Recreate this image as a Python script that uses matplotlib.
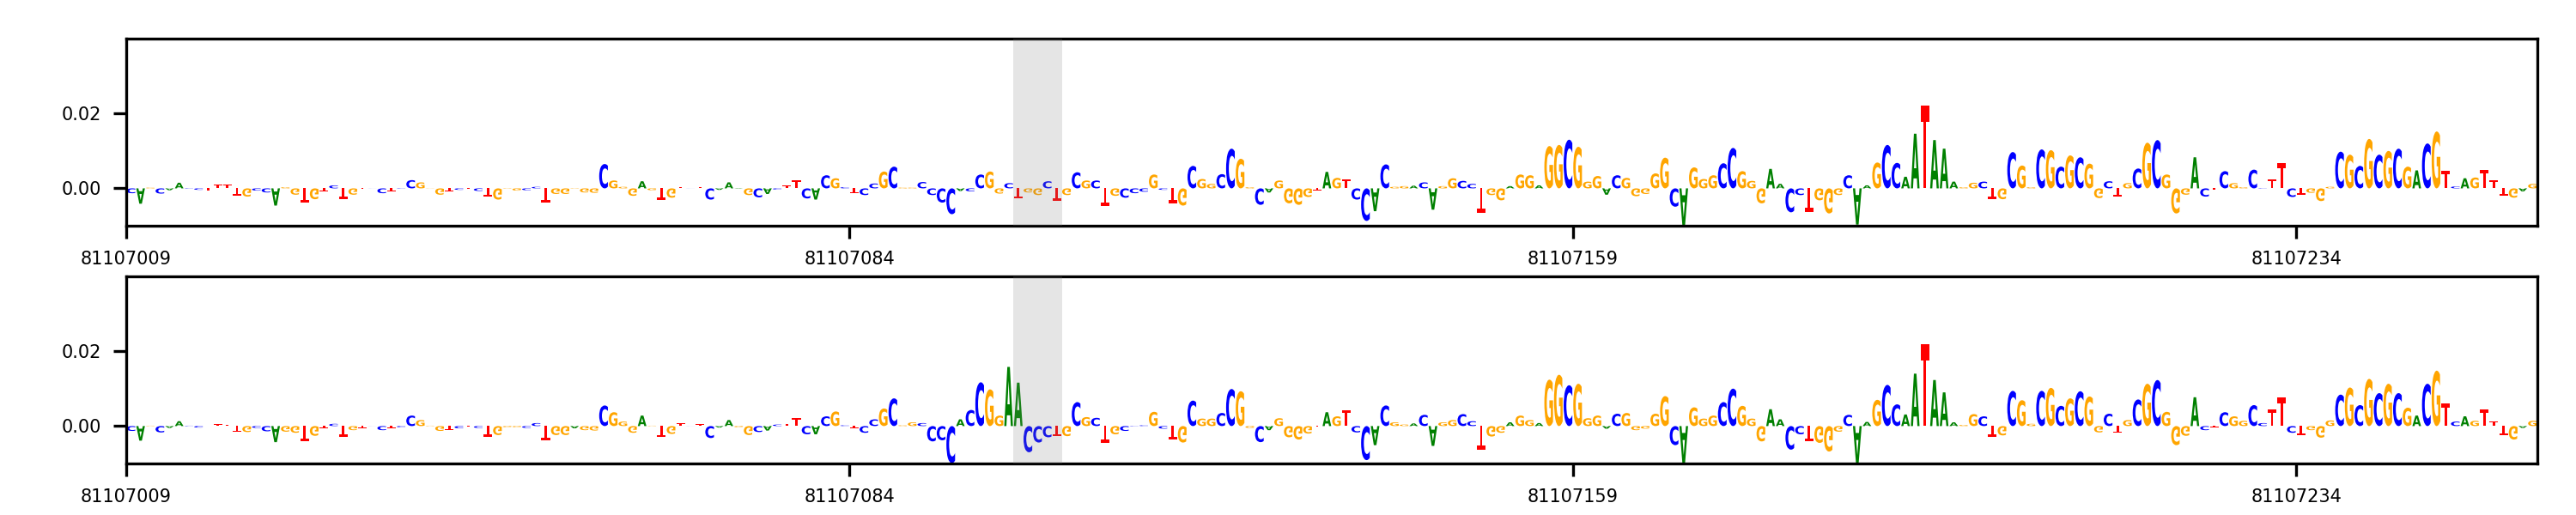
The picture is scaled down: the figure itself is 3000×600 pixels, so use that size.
import matplotlib
matplotlib.use('Agg')
import matplotlib.pyplot as plt
from matplotlib.font_manager import FontProperties
from matplotlib.patches import PathPatch
from matplotlib.textpath import TextPath
from matplotlib.transforms import Affine2D

# Bases per position, one row of ten per line
top_letters = ("CAGCAACCTT" "TTGCCAGGTG" "TCTGTCCTCC" "GGGTCTCTGG" "GCCTGGGGGC"
               "GGGAGTGTCT" "CAAAGCACTT" "CACGCTCCGC" "GGCCCCACCG" "GCTGGCTGCG"
               "CTGCCCGCTG" "CGGCCGGCAG" "GGGTAGTCCA" "CGGACAGGCC" "TGGAGGAGGC"
               "GGGACGGGGG" "CAGGGCCGGG" "AACCTGGGCA" "AGCCAATAAA" "GGCTGCGGCG"
               "CGCGGCTGCG" "CGGGACTCGG" "CCTTCTGGGC" "GCGCGCGACG" "TCAGTTTGAG")

bottom_letters = ("CAGCAACCTT" "TTGCCAGGTG" "TCTGTCCTCC" "GGGTCTCTGG" "GCCTGGAGGC"
                  "GGGAGTGTCT" "CAAGGCACTT" "CACGCTCCGC" "GGCCCCACCG" "GAACCCTGCG"
                  "CTGCCCGCTG" "CGGCCGGCAG" "GGGTAGTCCA" "CGGACAGGCC" "TGGAGGAGGC"
                  "GGGACGGGGG" "CAGGGCCGGG" "AACCTGGGCA" "AGCCAATAAA" "GGCTGCGGCG"
                  "CGCGGCTGCG" "CGGGACTCGG" "CCTTCTGGGC" "GCGCGCGACG" "TCAGTTTGAG")

top_values = [
    -0.0013, -0.0041, 0.0002, -0.0014, -0.0005, 0.0015, 0.0001, -0.0004, -0.0006, 0.001,
    0.001, -0.002, -0.0022, -0.0006, -0.0011, -0.0046, 0.0003, -0.0017, -0.0038, -0.0029,
    -0.0008, 0.0008, -0.0028, -0.0017, -0.0002, 0.00002, -0.0013, -0.0008, 0.0001, 0.0022,
    0.0016, 0.00005, -0.0017, -0.0008, -0.0004, -0.0002, -0.0007, -0.0022, -0.003, 0.0001,
    -0.0006, -0.0005, 0.0004, -0.0038, -0.0015, -0.0015, 0.0001, -0.0011, -0.0012, 0.0065,
    0.0021, 0.0004, -0.002, 0.0019, -0.0005, -0.003, -0.0025, 0.0003, 0.00002, 0.0003,
    -0.003, -0.0004, 0.0016, 0.0001, -0.0018, -0.0024, -0.0015, -0.0003, 0.0008, 0.0021,
    -0.0027, -0.003, 0.0035, 0.0027, 0.0003, -0.0012, -0.0018, 0.0013, 0.0045, 0.0058,
    0.0002, 0.0002, 0.0017, -0.0018, -0.0038, -0.0069, -0.0007, -0.0008, 0.0037, 0.0045,
    -0.0014, 0.0014, -0.0027, -0.0011, -0.0018, 0.0019, -0.0034, -0.0018, 0.0043, 0.0021,
    0.0021, -0.0048, -0.002, -0.0025, -0.0013, -0.0009, 0.0037, -0.0004, -0.004, -0.0046,
    0.006, 0.0025, 0.0012, 0.0038, 0.0106, 0.0079, 0.0003, -0.0044, -0.0011, 0.0021,
    -0.004, -0.0044, -0.0023, -0.0005, 0.0044, 0.0028, 0.0025, -0.003, -0.0087, -0.0061,
    0.0064, 0.0004, 0.0006, 0.0007, 0.0016, -0.0057, 0.0006, 0.0027, 0.002, 0.0012,
    -0.0066, -0.0018, -0.0032, 0.0006, 0.0037, 0.0035, 0.0008, 0.0113, 0.0116, 0.013,
    0.0111, 0.0018, 0.0033, -0.0017, 0.0035, 0.0028, -0.0021, -0.0015, 0.004, 0.0082,
    -0.0049, -0.0101, 0.0056, 0.0025, 0.0035, 0.0067, 0.0108, 0.0046, 0.002, -0.004,
    0.0052, 0.0012, -0.0064, -0.0018, -0.0063, -0.0032, -0.0067, -0.0018, 0.0035, -0.0097,
    0.0008, 0.0069, 0.0116, 0.0068, 0.0031, 0.0146, 0.0221, 0.0129, 0.0106, 0.0018,
    0.0003, 0.0015, 0.0018, -0.0028, -0.0029, 0.0097, 0.0061, 0.0003, 0.0104, 0.0102,
    0.0058, 0.0088, 0.0083, 0.0066, -0.0026, 0.0019, -0.0021, 0.0014, 0.0053, 0.0122,
    0.0129, 0.0037, -0.0067, -0.0017, 0.0083, -0.0022, -0.0004, 0.0046, 0.0014, 0.0003,
    0.005, 0.0001, 0.0023, 0.0067, -0.0023, -0.0017, -0.0012, -0.0034, 0.0004, 0.0098,
    0.009, 0.006, 0.0132, 0.009, 0.01, 0.0106, 0.0058, 0.0048, 0.012, 0.0152,
    0.0048, 0.0005, 0.0027, 0.0029, 0.005, 0.0021, -0.0019, -0.0025, -0.0008, 0.0012,
]

bottom_values = [
    -0.0013, -0.0039, 0.0001, -0.0017, -0.0005, 0.0013, 0.0001, -0.0004, 0.00002, 0.0005,
    0.0004, -0.0016, -0.0016, -0.0005, -0.0014, -0.0043, -0.0015, -0.0018, -0.0041, -0.0026,
    -0.0006, 0.0006, -0.0028, -0.0011, -0.0005, 0.00002, -0.0011, -0.0006, -0.0003, 0.0028,
    0.0016, 0.0001, -0.0013, -0.001, -0.0006, -0.0002, -0.0005, -0.0028, -0.0024, -0.0003,
    -0.0003, -0.0005, 0.0008, -0.0039, -0.0024, -0.0024, -0.0006, -0.0011, -0.0012, 0.0055,
    0.0037, 0.0012, -0.0018, 0.0028, 0.0001, -0.003, -0.0021, 0.0007, 0.00002, 0.0005,
    -0.0032, -0.0004, 0.0016, -0.0003, -0.0024, -0.0016, -0.0012, 0.0004, 0.0006, 0.0022,
    -0.0022, -0.0022, 0.0026, 0.0039, 0.0002, -0.0005, -0.0018, 0.0018, 0.0047, 0.0074,
    0.0002, 0.001, 0.0008, -0.0041, -0.0038, -0.0099, 0.0018, 0.0043, 0.0117, 0.0098,
    0.0028, 0.0158, 0.0116, -0.007, -0.0044, -0.003, -0.0027, -0.0027, 0.0064, 0.0024,
    0.0022, -0.0044, -0.0022, -0.0013, -0.0001, 0.0002, 0.0038, -0.0007, -0.0036, -0.0044,
    0.0068, 0.002, 0.002, 0.0035, 0.0099, 0.0093, -0.0005, -0.0043, -0.0011, 0.0021,
    -0.003, -0.0036, -0.002, -0.0002, 0.0037, 0.0026, 0.0043, -0.0017, -0.0091, -0.0051,
    0.0055, 0.001, 0.0004, 0.0007, 0.003, -0.0053, 0.001, 0.0016, 0.0032, 0.0013,
    -0.0064, -0.0028, -0.0018, 0.001, 0.0028, 0.0016, 0.0008, 0.0124, 0.0137, 0.0109,
    0.0113, 0.0021, 0.0028, -0.0007, 0.0033, 0.0035, -0.0011, -0.0007, 0.0033, 0.008,
    -0.0051, -0.0101, 0.005, 0.002, 0.0028, 0.0064, 0.01, 0.0054, 0.002, -0.0041,
    0.0045, 0.0018, -0.0063, -0.0022, -0.0041, -0.0045, -0.0068, -0.0015, 0.003, -0.0101,
    0.0011, 0.007, 0.011, 0.0058, 0.0031, 0.014, 0.0218, 0.0123, 0.009, 0.001,
    0.0003, 0.0032, 0.0026, -0.0028, -0.0025, 0.0094, 0.0069, 0.0006, 0.0094, 0.0102,
    0.0054, 0.0074, 0.0093, 0.0079, -0.0017, 0.0033, -0.0018, 0.0016, 0.0071, 0.0113,
    0.0123, 0.0038, -0.0051, -0.0026, 0.0077, -0.0011, -0.0003, 0.0037, 0.0026, 0.0014,
    0.0056, 0.0008, 0.0044, 0.0076, -0.0018, -0.0025, -0.0011, -0.0031, 0.0015, 0.0084,
    0.0103, 0.0056, 0.0126, 0.0088, 0.0113, 0.0088, 0.0049, 0.0028, 0.0113, 0.0148,
    0.006, 0.0012, 0.0026, 0.0014, 0.0045, 0.0012, -0.0025, -0.0036, -0.0005, 0.0014,
]

tick_positions = [0, 75, 150, 225]
tick_labels = ['81107009', '81107084', '81107159', '81107234']
highlight = (92, 97)

base_colors = {'A': 'green', 'C': 'blue', 'G': 'orange', 'T': 'red'}
font = FontProperties(family='DejaVu Sans', weight='bold')


# Draw one base stretched to its box, flipped when the value is negative
def draw_letter(ax, letter, pos, value):
    path = TextPath((0, 0), letter, size=1, prop=font)
    box = path.get_extents()
    transform = (Affine2D()
                 .translate(-box.x0, -box.y0)
                 .scale(0.9 / box.width, value / box.height)
                 .translate(pos + 0.04, 0))
    ax.add_patch(PathPatch(path, transform=transform + ax.transData,
                           facecolor=base_colors[letter], edgecolor='none', zorder=2))


def plot_track(ax, letters, values):
    for pos, (letter, value) in enumerate(zip(letters, values)):
        draw_letter(ax, letter, pos, value)
    ax.axvspan(highlight[0], highlight[1], color='grey', alpha=0.2, lw=0, zorder=3)
    ax.set_xlim(0, len(values))
    ax.set_ylim(-0.01, 0.04)
    ax.set_xticks(tick_positions)
    ax.set_xticklabels(tick_labels)
    ax.set_yticks([0, 0.02])
    ax.set_yticklabels(['0.00', '0.02'])
    ax.tick_params(labelsize=5)


fig, axes = plt.subplots(2, 1, figsize=(10, 2), dpi=300)
plot_track(axes[0], top_letters, top_values)
plot_track(axes[1], bottom_letters, bottom_values)
fig.subplots_adjust(left=0.049, right=0.985, top=0.925, bottom=0.1, hspace=0.27)
fig.savefig('out.png', dpi=300)
